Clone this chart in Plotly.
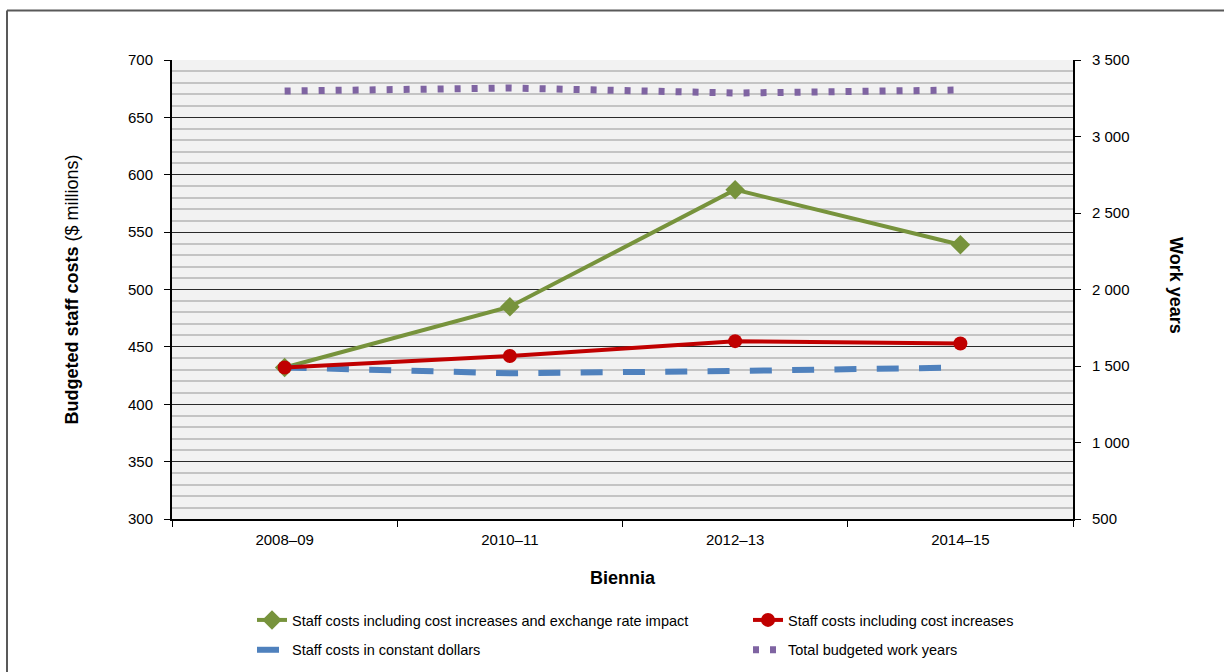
import plotly.graph_objects as go

# ---------------- data ----------------
biennia = ["2008–09", "2010–11", "2012–13", "2014–15"]
cost_incl_exchange = [432, 485, 587, 539]      # $ millions
cost_incl_increases = [432, 442, 455, 453]     # $ millions
cost_constant = [432, 427, 429, 432]           # $ millions
work_years = [3297, 3317, 3284, 3304]          # work years (right axis)

names = [
    "Staff costs including cost increases and exchange rate impact",
    "Staff costs including cost increases",
    "Staff costs in constant dollars",
    "Total budgeted work years",
]

FONT = "Liberation Sans, Arial, sans-serif"
BOLD = "Liberation Sans, Arial, sans-serif"

fig = go.Figure()

fig.add_trace(go.Scatter(
    x=biennia, y=cost_incl_exchange, name=names[0], mode="lines+markers",
    line=dict(color="#77933C", width=4),
    marker=dict(symbol="diamond", size=15, color="#77933C"),
    legend="legend", legendgroup="g1",
))
fig.add_trace(go.Scatter(
    x=biennia, y=cost_constant, name=names[2], mode="lines",
    line=dict(color="#4F81BD", width=6, dash="22px,20.3px"),
    legend="legend", legendgroup="g3",
))
fig.add_trace(go.Scatter(
    x=biennia, y=cost_incl_increases, name=names[1], mode="lines+markers",
    line=dict(color="#C00000", width=4),
    marker=dict(symbol="circle", size=14, color="#C00000"),
    legend="legend2", legendgroup="g2",
))
fig.add_trace(go.Scatter(
    x=biennia, y=work_years, name=names[3], mode="lines", yaxis="y2",
    line=dict(color="#7F64A2", width=7, dash="6px,11px"),
    legend="legend2", legendgroup="g4",
))

L, R, T, B = 172, 151, 60, 153
W, H = 1224, 672
pw, ph = W - L - R, H - T - B

def px(x):
    return (x - L) / pw

def py(y):
    return (H - B - y) / ph

fig.update_layout(
    width=W, height=H,
    margin=dict(l=L, r=R, t=T, b=B, pad=0, autoexpand=False),
    paper_bgcolor="white",
    plot_bgcolor="#F2F2F2",
    separators=". ",
    font=dict(family=FONT, size=15, color="#000000"),
    xaxis=dict(
        type="category", range=[-0.5, 3.5], tickson="boundaries",
        ticks="outside", ticklen=6, tickwidth=1, tickcolor="#000",
        ticklabelstandoff=6,
        showline=True, linecolor="#000", linewidth=2,
        showgrid=False, zeroline=False,
        tickfont=dict(size=15),
    ),
    yaxis=dict(
        range=[300, 700], dtick=50, ticks="outside", ticklen=6,
        ticklabelstandoff=8,
        tickcolor="#000", showline=True, linecolor="#000", linewidth=2,
        showgrid=True, gridcolor="#2b2b2b", gridwidth=1,
        minor=dict(dtick=10, showgrid=True, gridcolor="#C4C4C4", gridwidth=1.5),
        zeroline=False, tickfont=dict(size=15),
    ),
    yaxis2=dict(
        overlaying="y", side="right", range=[500, 3500], dtick=500,
        tickformat=",d", ticklabelstandoff=8,
        ticks="outside", ticklen=6, tickcolor="#000",
        showline=True, linecolor="#000", linewidth=2,
        showgrid=False, zeroline=False, tickfont=dict(size=15),
    ),
    legend=dict(
        x=px(252), y=py(604), xanchor="left", yanchor="top",
        orientation="v", tracegroupgap=8, bgcolor="rgba(0,0,0,0)",
        font=dict(size=14.5),
    ),
    legend2=dict(
        x=px(748), y=py(604), xanchor="left", yanchor="top",
        orientation="v", tracegroupgap=8, bgcolor="rgba(0,0,0,0)",
        font=dict(size=14.5),
    ),
    showlegend=True,
)

fig.add_annotation(
    x=px(71), y=0.5, xref="paper", yref="paper", showarrow=False,
    textangle=-90, xanchor="center", yanchor="middle",
    text="<b>Budgeted staff costs</b> ($ millions)",
    font=dict(family=BOLD, size=18),
)
fig.add_annotation(
    x=px(1176), y=py(285), xref="paper", yref="paper", showarrow=False,
    textangle=90, xanchor="center", yanchor="middle",
    text="<b>Work years</b>", font=dict(family=BOLD, size=18),
)
fig.add_annotation(
    x=0.5, y=py(578), xref="paper", yref="paper", showarrow=False,
    xanchor="center", yanchor="middle",
    text="<b>Biennia</b>", font=dict(family=BOLD, size=18),
)

# outer frame (top and left edges)
fig.add_shape(type="line", xref="paper", yref="paper",
              x0=px(7), x1=px(1230), y0=py(10.5), y1=py(10.5),
              line=dict(color="#595959", width=2))
fig.add_shape(type="line", xref="paper", yref="paper",
              x0=px(7), x1=px(7), y0=py(10.5), y1=py(680),
              line=dict(color="#595959", width=2))

fig.write_html("out.html")
